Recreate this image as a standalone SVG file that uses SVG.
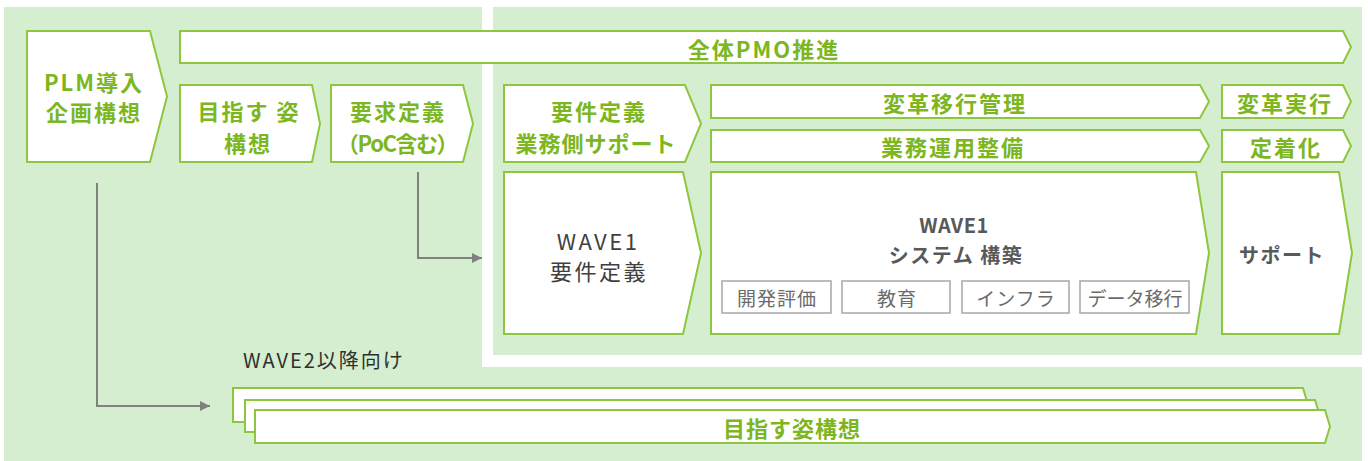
<svg xmlns="http://www.w3.org/2000/svg" width="1368" height="461" viewBox="0 0 1368 461">
<defs>
<style>
.bg{fill:#d5eecf}
.n{fill:#ffffff;stroke:#8dc63f;stroke-width:2;stroke-linejoin:miter}
.g{font-family:"Noto Sans CJK JP","Noto Sans",sans-serif;font-weight:bold;font-size:22px;fill:#7cb621;letter-spacing:2px;text-anchor:middle;dominant-baseline:central}
.d{font-family:"Noto Sans CJK JP","Noto Sans",sans-serif;font-size:22px;fill:#404040;letter-spacing:2.5px;text-anchor:middle;dominant-baseline:central}
.db{font-family:"Noto Sans CJK JP","Noto Sans",sans-serif;font-weight:bold;font-size:20px;fill:#595959;letter-spacing:1.5px;text-anchor:middle;dominant-baseline:central}
.s{fill:#ffffff;stroke:#a6a6a6;stroke-width:1.5}
.st{font-family:"Noto Sans CJK JP","Noto Sans",sans-serif;font-size:19px;fill:#6b6b6b;letter-spacing:1px;text-anchor:middle;dominant-baseline:central}
.c{fill:none;stroke:#808080;stroke-width:2}
</style>
<marker id="ah" markerWidth="10" markerHeight="10" refX="10" refY="5" orient="auto" markerUnits="userSpaceOnUse">
<path d="M0,0 L10,5 L0,10 Z" fill="#808080"/>
</marker>
</defs>
<rect x="0" y="0" width="1368" height="461" fill="#ffffff"/>
<rect class="bg" x="4" y="7" width="1358" height="454"/>
<rect x="482" y="0" width="886" height="367" fill="#ffffff"/>
<rect class="bg" x="493" y="7" width="869" height="348"/>

<g id="plm">
<polygon class="n" points="27,31 150,31 167,96.5 150,162 27,162"/>
<text class="g" x="94" y="81">PLM導入</text>
<text class="g" x="94" y="111">企画構想</text>
</g>
<g id="pmo">
<polygon class="n" points="180,31 1343,31 1351,47 1343,63 180,63"/>
<text class="g" x="764" y="48">全体PMO推進</text>
</g>
<g id="mezasu">
<polygon class="n" points="180,85 312,85 320,123.5 312,162 180,162"/>
<text class="g" x="249" y="110">目指す 姿</text>
<text class="g" x="248" y="142">構想</text>
</g>
<g id="yokyu">
<polygon class="n" points="331,85 463,85 473,123.5 463,162 331,162"/>
<text class="g" x="398" y="110">要求定義</text>
<text class="g" x="397" y="142" style="letter-spacing:-1.5px">（PoC含む）</text>
</g>
<g id="yoken-support">
<polygon class="n" points="504,85 685,85 701,123.5 685,162 504,162"/>
<text class="g" x="599" y="110">要件定義</text>
<text class="g" x="596" y="142" style="letter-spacing:1px">業務側サポート</text>
</g>
<g id="henkaku-ikou">
<polygon class="n" points="711,85 1200,85 1209,101.5 1200,118 711,118"/>
<text class="g" x="955" y="102">変革移行管理</text>
</g>
<g id="gyomu-unyo">
<polygon class="n" points="711,130 1200,130 1209,146 1200,162 711,162"/>
<text class="g" x="953" y="146">業務運用整備</text>
</g>
<g id="henkaku-jikko">
<polygon class="n" points="1222,85 1343,85 1351,101.5 1343,118 1222,118"/>
<text class="g" x="1285" y="102">変革実行</text>
</g>
<g id="teichaku">
<polygon class="n" points="1222,130 1343,130 1351,146 1343,162 1222,162"/>
<text class="g" x="1286" y="146">定着化</text>
</g>
<g id="wave1-yoken">
<polygon class="n" points="504,172 683,172 701,253 683,334 504,334"/>
<text class="d" x="598" y="240">WAVE1</text>
<text class="d" x="599" y="270">要件定義</text>
</g>
<g id="wave1-system">
<polygon class="n" points="711,172 1196,172 1209,253 1196,334 711,334"/>
<text class="db" x="954" y="224" style="letter-spacing:0.5px">WAVE1</text>
<text class="db" x="956" y="254">システム 構築</text>
<rect class="s" x="722" y="281" width="109" height="32"/>
<text class="st" x="777" y="297">開発評価</text>
<rect class="s" x="842" y="281" width="108" height="32"/>
<text class="st" x="897" y="297">教育</text>
<rect class="s" x="962" y="281" width="107" height="32"/>
<text class="st" x="1016" y="297">インフラ</text>
<rect class="s" x="1080" y="281" width="109" height="32"/>
<text class="st" x="1135" y="297" style="letter-spacing:0px">データ移行</text>
</g>
<g id="support">
<polygon class="n" points="1222,172 1339,172 1352,253 1339,334 1222,334"/>
<text class="db" x="1282" y="254">サポート</text>
</g>
<g id="wave2">
<text x="243" y="359" font-family="'Noto Sans CJK JP','Noto Sans',sans-serif" font-size="20" fill="#303030" dominant-baseline="central" letter-spacing="2">WAVE2以降向け</text>
<polygon class="n" points="233,388 1303,388 1308,405 1303,422 233,422"/>
<polygon class="n" points="245,400 1315,400 1320,416 1315,432 245,432"/>
<polygon class="n" points="255,410 1325,410 1330,426.5 1325,443 255,443"/>
<text class="g" x="792" y="427" style="letter-spacing:1px">目指す姿構想</text>
</g>
<g id="connectors">
<polyline class="c" points="97,183 97,406 210,406" marker-end="url(#ah)"/>
<polyline class="c" points="418,172 418,258 482,258" marker-end="url(#ah)"/>
</g>
</svg>
